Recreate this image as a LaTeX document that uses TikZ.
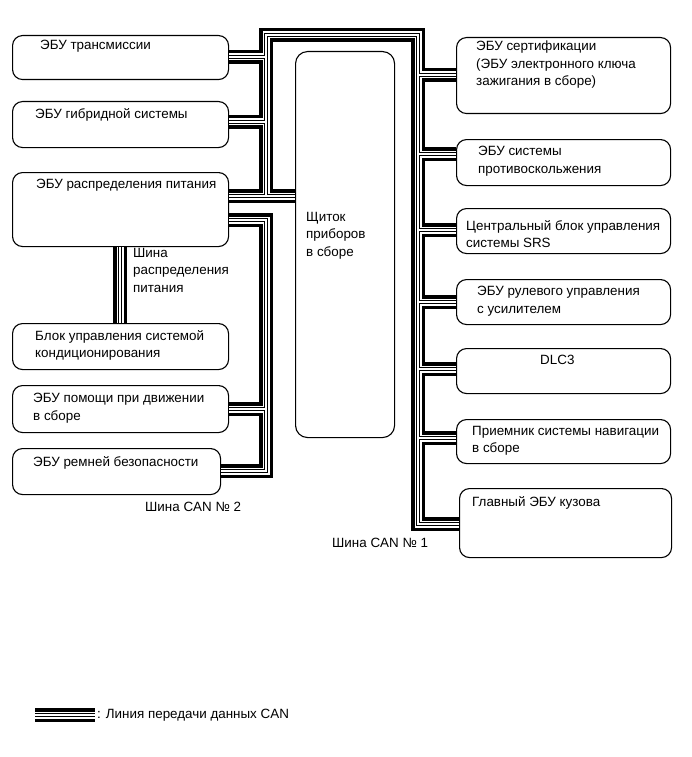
\documentclass[tikz,border=0pt]{standalone}
\usepackage{fontspec}
\setmainfont{Liberation Sans}
\newcommand\myfs{\fontsize{13.4}{17.5}\selectfont}
\begin{document}
\begin{tikzpicture}[x=1pt,y=-1pt,
  ecu/.style={draw, line width=1.1pt, rounded corners=10pt, anchor=north west, inner sep=0pt},
  lbl/.style={anchor=north west, inner sep=0pt, align=left, font=\myfs},
  canbus/.style={line width=14pt, line join=miter, draw=black,
     postaction={draw=white, line width=7pt},
     postaction={draw=black, line width=3.2pt},
     postaction={draw=white, line width=1.2pt}},
]
\useasboundingbox (0,0) rectangle (691,757);

% left boxes
\node[ecu, minimum width=216pt, minimum height=44pt] (L1) at (12,35) {};
\node[ecu, minimum width=216pt, minimum height=46pt] (L2) at (12,101) {};
\node[ecu, minimum width=216pt, minimum height=74pt] (L3) at (12,172) {};
\node[ecu, minimum width=216pt, minimum height=46pt] (L4) at (12,323) {};
\node[ecu, minimum width=216pt, minimum height=47pt] (L5) at (12,385) {};
\node[ecu, minimum width=208pt, minimum height=46pt] (L6) at (12,448) {};
% instrument panel
\node[ecu, rounded corners=12pt, minimum width=99pt, minimum height=386pt] (IP) at (295,51) {};
% right boxes
\node[ecu, minimum width=214pt, minimum height=76pt] (R1) at (456,37) {};
\node[ecu, minimum width=214pt, minimum height=46pt] (R2) at (456,139) {};
\node[ecu, minimum width=214pt, minimum height=45pt] (R3) at (456,208) {};
\node[ecu, minimum width=214pt, minimum height=45pt] (R4) at (456,279) {};
\node[ecu, minimum width=214pt, minimum height=45pt] (R5) at (456,348) {};
\node[ecu, minimum width=214pt, minimum height=44pt] (R6) at (456,419) {};
\node[ecu, minimum width=212pt, minimum height=69pt] (R7) at (459,488) {};

% texts
\node[lbl] (L1t) at (40,40) {ЭБУ трансмиссии};
\node[lbl] (L2t) at (35,108) {ЭБУ гибридной системы};
\node[lbl] (L3t) at (36,179) {ЭБУ распределения питания};
\node[lbl] (L4t) at (35,330) {Блок управления системой\\кондиционирования};
\node[lbl] (L5t) at (33,393) {ЭБУ помощи при движении\\в сборе};
\node[lbl] (L6t) at (33,456) {ЭБУ ремней безопасности};
\node[lbl] (IPt) at (306,212) {Щиток\\приборов\\в сборе};
\node[lbl] (R1t) at (476,41) {ЭБУ сертификации\\(ЭБУ электронного ключа\\зажигания в сборе)};
\node[lbl] (R2t) at (478,146) {ЭБУ системы\\противоскольжения};
\node[lbl] (R3t) at (466,220) {Центральный блок управления\\системы SRS};
\node[lbl] (R4t) at (477,286) {ЭБУ рулевого управления\\с усилителем};
\node[lbl] (R5t) at (540,355) {DLC3};
\node[lbl] (R6t) at (472,426) {Приемник системы навигации\\в сборе};
\node[lbl] (R7t) at (472,496) {Главный ЭБУ кузова};
\node[lbl] (PBt) at (133,248) {Шина\\распределения\\питания};
\node[lbl] (C2t) at (145,502) {Шина CAN № 2};
\node[lbl] (C1t) at (332,538) {Шина CAN № 1};

% CAN 1
\draw[canbus]
  (L1.east |- 0,57) -- (266,57)
  (L2.east |- 0,122) -- (266,122)
  (L3.east |- 0,196) -- (IP.west |- 0,196)
  (266,196) -- (266,35) -- (418,35) -- (418,524) -- (R7.west |- 0,524)
  (418,75) -- (R1.west |- 0,75)
  (418,154) -- (R2.west |- 0,154)
  (418,230) -- (R3.west |- 0,230)
  (418,302) -- (R4.west |- 0,302)
  (418,369) -- (R5.west |- 0,369)
  (418,438) -- (R6.west |- 0,438);
% CAN 2
\draw[canbus]
  (L3.east |- 0,220) -- (266,220) -- (266,471) -- (L6.east |- 0,471)
  (L5.east |- 0,409) -- (266,409);
% power distribution bus
\draw[canbus] (L3.south -| 120,0) -- (L4.north -| 120,0);

% legend
\coordinate (lg1) at (35,715);
\coordinate (lg2) at (95,715);
\draw[canbus] (lg1) -- (lg2);
\node[font=\myfs, anchor=west, inner sep=0pt] (lgt) at (97,715) {: Линия передачи данных CAN};
\end{tikzpicture}
\end{document}
